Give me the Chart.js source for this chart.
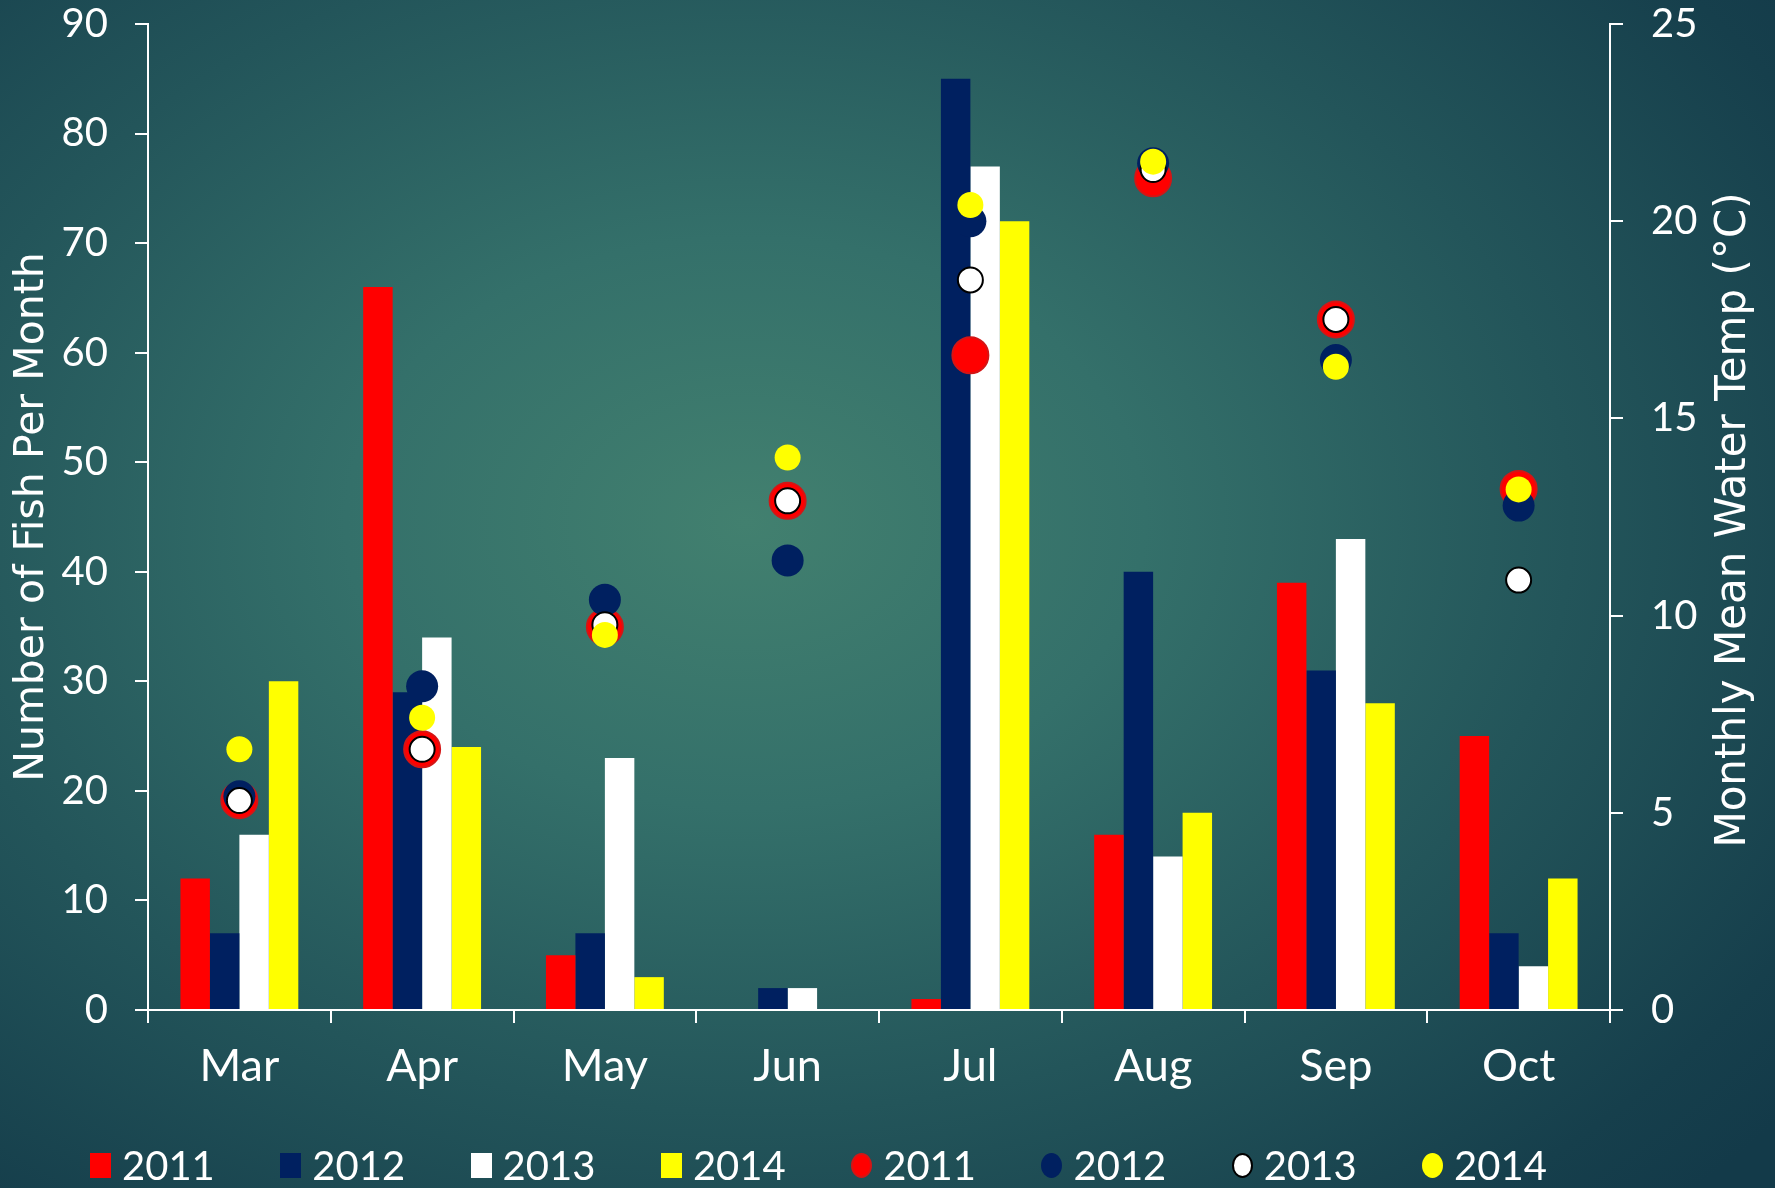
<!DOCTYPE html>
<html>
<head>
<meta charset="utf-8">
<script src="https://cdn.jsdelivr.net/npm/chart.js@4.4.1/dist/chart.umd.min.js"></script>
<style>
    html, body { margin: 0; padding: 0; }
    body {
        width: 1775px;
        height: 1188px;
        overflow: hidden;
        background: radial-gradient(ellipse 75% 80% at 42% 44%, #42806f 0%, #34706a 30%, #23555a 62%, #163f4c 90%, #133a49 100%);
        font-family: Lato, sans-serif;
    }
    #wrap { position: relative; width: 1775px; height: 1188px; }
    #legend {
        position: absolute;
        left: 90px;
        top: 1141px;
        display: flex;
        height: 48px;
        align-items: center;
    }
    .item { display: flex; align-items: center; width: 190.3px; color: #fff; font-size: 40px; }
    .swatch { width: 21px; height: 25px; margin-right: 11px; box-sizing: border-box; }
    .dot { border-radius: 50%; }
</style>
</head>
<body>
<div id="wrap">
    <canvas id="fishChart" width="1775" height="1188"></canvas>
    <div id="legend"></div>
</div>
<script>
// Data
const months = ['Mar', 'Apr', 'May', 'Jun', 'Jul', 'Aug', 'Sep', 'Oct'];
const years = ['2011', '2012', '2013', '2014'];

// Number of fish per month (bars, left axis)
const fish2011 = [12, 66, 5, 0, 1, 16, 39, 25];
const fish2012 = [7, 29, 7, 2, 85, 40, 31, 7];
const fish2013 = [16, 34, 23, 2, 77, 14, 43, 4];
const fish2014 = [30, 24, 3, 0, 72, 18, 28, 12];

// Monthly mean water temp (points, right axis)
const temp2011 = [5.32, 6.61, 9.71, 12.91, 16.60, 21.09, 17.51, 13.21];
const temp2012 = [5.42, 8.21, 10.40, 11.40, 20.00, 21.47, 16.48, 12.79];
const temp2013 = [5.31, 6.61, 9.77, 12.91, 18.51, 21.31, 17.51, 10.90];
const temp2014 = [6.61, 7.41, 9.51, 14.01, 20.41, 21.51, 16.31, 13.20];

const fishTicks = [0, 10, 20, 30, 40, 50, 60, 70, 80, 90];
const tempTicks = [0, 5, 10, 15, 20, 25];

const yearColors = ['#ff0000', '#002060', '#ffffff', '#ffff00'];
const fishSeries = [fish2011, fish2012, fish2013, fish2014];
const tempSeries = [temp2011, temp2012, temp2013, temp2014];

const leftTitle = 'Number of Fish Per Month';
const rightTitle = 'Monthly Mean Water Temp (°C)';

// point look per year: radius, border
const pointStyles = [
    { r: 18, bw: 2, bc: '#d41515' },
    { r: 16, bw: 0, bc: '#002060' },
    { r: 12.5, bw: 2, bc: '#000000' },
    { r: 13, bw: 0, bc: '#ffff00' }
];

const tickFont = { family: 'Lato', size: 40 };
const titleFont = { family: 'DejaVu Sans', size: 41 };

const barSets = fishSeries.map((data, i) => ({
    type: 'bar',
    label: years[i],
    data: data,
    backgroundColor: yearColors[i],
    borderWidth: 0,
    categoryPercentage: 0.645,
    barPercentage: 1,
    yAxisID: 'y',
    order: 10 + i
}));

const pointSets = tempSeries.map((data, i) => ({
    type: 'line',
    label: years[i],
    data: data,
    showLine: false,
    pointRadius: pointStyles[i].r,
    pointHoverRadius: pointStyles[i].r,
    pointBorderWidth: pointStyles[i].bw,
    pointBorderColor: pointStyles[i].bc,
    pointBackgroundColor: yearColors[i],
    yAxisID: 'y2',
    order: 4 - i   // yellow drawn on top, red at the bottom
}));

// right axis title reads bottom-to-top, chart.js would turn it the other way
const rightTitlePlugin = {
    id: 'rightTitle',
    afterDraw(chart) {
        const { ctx, chartArea } = chart;
        ctx.save();
        ctx.translate(1734, (chartArea.top + chartArea.bottom) / 2 + 3);
        ctx.rotate(-Math.PI / 2);
        ctx.fillStyle = '#ffffff';
        ctx.font = `42px "${titleFont.family}"`;
        ctx.textAlign = 'center';
        ctx.textBaseline = 'middle';
        ctx.fillText(rightTitle, 0, 0);
        ctx.restore();
    }
};

// tick padding gets added to the top padding, keep the plot top at 24px
function fitY(width) {
    return (scale) => {
        scale.width = width;
        scale.paddingTop = 24;
    };
}

const ctx = document.getElementById('fishChart').getContext('2d');
const chart = new Chart(ctx, {
    data: {
        labels: months,
        datasets: [...barSets, ...pointSets]
    },
    plugins: [rightTitlePlugin],
    options: {
        responsive: false,
        animation: false,
        layout: { padding: { top: 0, bottom: 0, left: 0, right: 0 } },
        plugins: {
            legend: { display: false },
            tooltip: { enabled: false }
        },
        scales: {
            x: {
                offset: true,
                grid: { display: true, offset: true, drawOnChartArea: false, drawTicks: true, tickLength: 13, color: '#ffffff', lineWidth: 2 },
                border: { color: '#ffffff', width: 2 },
                ticks: { color: '#ffffff', font: { family: 'Lato', size: 45 }, padding: 16 },
                afterFit: (scale) => { scale.height = 178; }
            },
            y: {
                position: 'left',
                min: 0,
                max: 90,
                afterBuildTicks: (scale) => { scale.ticks = fishTicks.map(v => ({ value: v })); },
                grid: { drawOnChartArea: false, drawTicks: true, tickLength: 13, color: '#ffffff', lineWidth: 2 },
                border: { color: '#ffffff', width: 2 },
                ticks: { color: '#ffffff', font: tickFont, padding: 27 },
                title: {
                    display: true,
                    text: leftTitle,
                    color: '#ffffff',
                    font: titleFont,
                    padding: { top: 8, bottom: 0 }
                },
                afterFit: fitY(148)
            },
            y2: {
                position: 'right',
                min: 0,
                max: 25,
                afterBuildTicks: (scale) => { scale.ticks = tempTicks.map(v => ({ value: v })); },
                grid: { drawOnChartArea: false, drawTicks: true, tickLength: 13, color: '#ffffff', lineWidth: 2 },
                border: { color: '#ffffff', width: 2 },
                ticks: { color: '#ffffff', font: tickFont, padding: 28 },
                afterFit: fitY(165)
            }
        }
    }
});

// Legend (bars first, then temperature points)
function buildLegend() {
    const legend = document.getElementById('legend');
    legend.innerHTML = '';
    const entries = [
        ...years.map((y, i) => ({ text: y, color: yearColors[i], dot: false, border: 'none' })),
        ...years.map((y, i) => ({
            text: y,
            color: yearColors[i],
            dot: true,
            border: pointStyles[i].bw ? `2px solid ${pointStyles[i].bc}` : 'none'
        }))
    ];
    entries.forEach(e => {
        const item = document.createElement('div');
        item.className = 'item';
        item.innerHTML = `
            <span class="swatch ${e.dot ? 'dot' : ''}" style="background: ${e.color}; border: ${e.border};"></span>
            <span>${e.text}</span>
        `;
        legend.appendChild(item);
    });
}
buildLegend();
</script>
</body>
</html>
